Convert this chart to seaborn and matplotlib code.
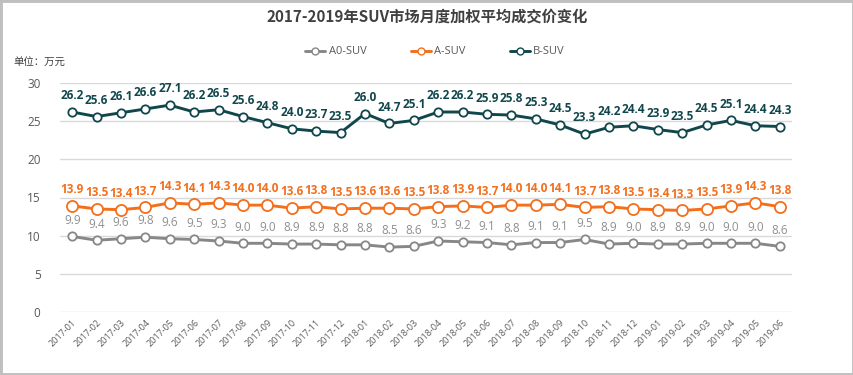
import matplotlib
matplotlib.use("Agg")
import matplotlib.pyplot as plt
import seaborn as sns
import pandas as pd
from matplotlib.patches import Rectangle
from matplotlib.lines import Line2D

months = ["2017-01", "2017-02", "2017-03", "2017-04", "2017-05", "2017-06", "2017-07", "2017-08",
          "2017-09", "2017-10", "2017-11", "2017-12", "2018-01", "2018-02", "2018-03", "2018-04",
          "2018-05", "2018-06", "2018-07", "2018-08", "2018-09", "2018-10", "2018-11", "2018-12",
          "2019-01", "2019-02", "2019-03", "2019-04", "2019-05", "2019-06"]
a0_suv = [9.9, 9.4, 9.6, 9.8, 9.6, 9.5, 9.3, 9.0, 9.0, 8.9, 8.9, 8.8, 8.8, 8.5, 8.6, 9.3,
          9.2, 9.1, 8.8, 9.1, 9.1, 9.5, 8.9, 9.0, 8.9, 8.9, 9.0, 9.0, 9.0, 8.6]
a_suv = [13.9, 13.5, 13.4, 13.7, 14.3, 14.1, 14.3, 14.0, 14.0, 13.6, 13.8, 13.5, 13.6, 13.6, 13.5, 13.8,
         13.9, 13.7, 14.0, 14.0, 14.1, 13.7, 13.8, 13.5, 13.4, 13.3, 13.5, 13.9, 14.3, 13.8]
b_suv = [26.2, 25.6, 26.1, 26.6, 27.1, 26.2, 26.5, 25.6, 24.8, 24.0, 23.7, 23.5, 26.0, 24.7, 25.1, 26.2,
         26.2, 25.9, 25.8, 25.3, 24.5, 23.3, 24.2, 24.4, 23.9, 23.5, 24.5, 25.1, 24.4, 24.3]
series_names = ["A0-SUV", "A-SUV", "B-SUV"]
title = "2017-2019年SUV市场月度加权平均成交价变化"
unit_label = "单位：万元"
y_ticks = [0, 5, 10, 15, 20, 25, 30]

sns.set_theme(style="white")
plt.rcParams["font.family"] = ["Open Sans", "Noto Sans CJK SC", "DejaVu Sans"]

df = pd.DataFrame({"month": months * 3,
                   "value": a0_suv + a_suv + b_suv,
                   "series": [series_names[0]] * len(months) + [series_names[1]] * len(months)
                             + [series_names[2]] * len(months)})

colors = {"A0-SUV": "#878787", "A-SUV": "#f36f1c", "B-SUV": "#11474c"}
label_colors = {"A0-SUV": "#8f8f8f", "A-SUV": "#f36f1c", "B-SUV": "#11474c"}
marker_sizes = {"A0-SUV": 6, "A-SUV": 8, "B-SUV": 6}

fig = plt.figure(figsize=(8.54, 3.75), dpi=100)
ax = fig.add_axes([60 / 854, 1 - 312 / 375, 732 / 854, 229 / 375])

for name in series_names:
    sub = df[df["series"] == name]
    sns.lineplot(data=sub, x="month", y="value", ax=ax, color=colors[name],
                 linewidth=2.1, marker="o", markersize=marker_sizes[name],
                 markerfacecolor="white", markeredgecolor=colors[name], markeredgewidth=1.3,
                 sort=False, legend=False, zorder=3)

for name, vals in zip(series_names, [a0_suv, a_suv, b_suv]):
    for i, v in enumerate(vals):
        ax.annotate(f"{v:.1f}", (i, v), xytext=(0, 7), textcoords="offset points",
                    ha="center", va="bottom", fontsize=8.5, color=label_colors[name],
                    fontweight="normal" if name == "A0-SUV" else "bold",
                    family=["Open Sans", "DejaVu Sans"])

ax.set_xlim(-0.5, len(months) - 0.5)
ax.set_ylim(0, 30)
ax.set_yticks(y_ticks)
ax.set_yticklabels([str(t) for t in y_ticks], fontsize=8.5, color="#595959")
ax.set_xticks(range(len(months)))
ax.set_xticklabels(months, rotation=45, ha="right", rotation_mode="anchor", fontsize=6.5, color="#595959")
ax.tick_params(axis="both", length=0, pad=4)
ax.tick_params(axis="y", pad=14)
ax.set_xlabel("")
ax.set_ylabel("")
ax.grid(axis="y", color="#d9d9d9", linewidth=1)
for s in ax.spines.values():
    s.set_visible(False)

fig.text(0.5, 1 - 17 / 375, title, ha="center", va="center", fontsize=11, fontweight="bold",
         color="#404040", family=["Noto Sans CJK SC", "DejaVu Sans"])
fig.text(13 / 854, 1 - 63 / 375, unit_label, ha="left", va="center", fontsize=7.5,
         color="#404040", family=["Noto Sans CJK SC", "DejaVu Sans"])

handles = [Line2D([0], [0], color=colors[n], linewidth=2.1, marker="o", markersize=5,
                  markerfacecolor="white", markeredgecolor=colors[n]) for n in series_names]
fig.legend(handles, series_names, loc="center", bbox_to_anchor=(435 / 854, 1 - 52 / 375), ncol=3,
           frameon=False, fontsize=8, handlelength=1.8, columnspacing=4.0, handletextpad=0.3,
           labelcolor="#595959")

fig.patches.append(Rectangle((0, 0), 1, 1, transform=fig.transFigure, fill=False,
                             edgecolor="#bfbfbf", linewidth=3.5, zorder=10))

fig.savefig("out.png", dpi=100)
